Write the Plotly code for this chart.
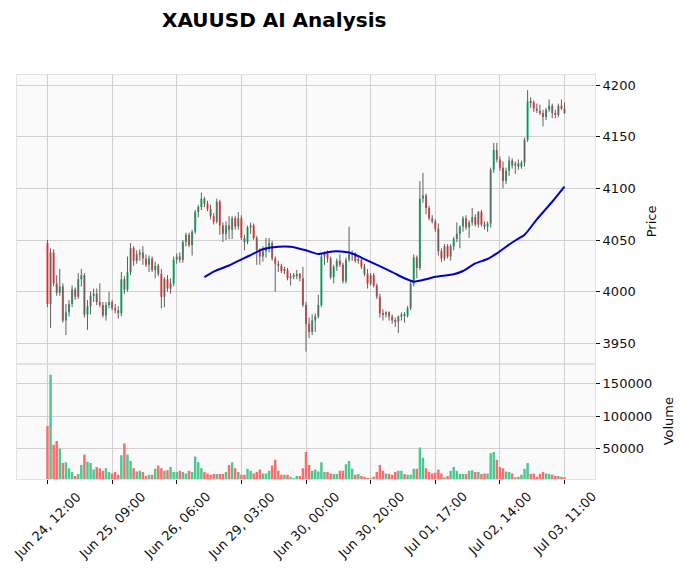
import plotly.graph_objects as go

title_text = "XAUUSD AI Analysis"
tick_pos = [0, 21, 42, 63, 84, 105, 126, 147, 168]
tick_labels = ["Jun 24, 12:00", "Jun 25, 09:00", "Jun 26, 06:00", "Jun 29, 03:00",
               "Jun 30, 00:00", "Jun 30, 20:00", "Jul 01, 17:00", "Jul 02, 14:00",
               "Jul 03, 11:00"]
price_ticks = [3950, 4000, 4050, 4100, 4150, 4200]
vol_ticks = [50000, 100000, 150000]
vol_tick_text = ["50000", "100000", "150000"]

opens = [4047, 3988, 4038, 4008, 3999, 4005, 3972, 3980, 3988, 4002,
         3995, 4012, 4016, 3978, 3986, 3996, 3998, 3990, 3987, 3977,
         3987, 3990, 3984, 3982, 3979, 4012, 4002, 4019, 4042, 4030,
         4036, 4038, 4032, 4026, 4032, 4021, 4025, 4017, 3995, 4012,
         4003, 4008, 4031, 4034, 4031, 4048, 4055, 4045, 4058, 4077,
         4082, 4090, 4085, 4080, 4073, 4068, 4087, 4064, 4056, 4064,
         4060, 4071, 4063, 4071, 4052, 4048, 4062, 4064, 4052, 4040,
         4034, 4039, 4043, 4047, 4032, 4027, 4025, 4020, 4021, 4013,
         4015, 4016, 4017, 4013, 3987, 3969, 3961, 3972, 3976, 3987,
         4034, 4037, 4032, 4014, 4024, 4030, 4026, 4010, 4031, 4036,
         4037, 4030, 4031, 4024, 4017, 4008, 4016, 4006, 3995, 3979,
         3978, 3980, 3976, 3972, 3971, 3976, 3978, 3977, 3984, 4008,
         4033, 4023, 4090, 4093, 4081, 4071, 4068, 4061, 4039, 4032,
         4044, 4034, 4044, 4051, 4056, 4063, 4071, 4062, 4067, 4072,
         4065, 4077, 4065, 4063, 4066, 4118, 4137, 4128, 4120, 4107,
         4117, 4127, 4122, 4124, 4121, 4125, 4147, 4184, 4183, 4177,
         4175, 4173, 4169, 4176, 4180, 4173, 4171, 4180, 4177]
highs = [4050, 4042, 4041, 4016, 4022, 4008, 3988, 3992, 4006, 4004,
         4018, 4022, 4018, 3992, 4000, 4003, 4003, 4008, 3990, 3990,
         4000, 3992, 3988, 3986, 4019, 4015, 4034, 4047, 4044, 4040,
         4041, 4044, 4036, 4035, 4034, 4029, 4027, 4022, 4014, 4016,
         4013, 4034, 4037, 4038, 4050, 4057, 4057, 4060, 4079, 4084,
         4096, 4092, 4088, 4084, 4076, 4090, 4089, 4067, 4068, 4073,
         4073, 4073, 4077, 4074, 4055, 4064, 4067, 4066, 4054, 4042,
         4044, 4052, 4052, 4049, 4034, 4030, 4027, 4024, 4023, 4018,
         4018, 4021, 4018, 4024, 3990, 3975, 3978, 3979, 3997, 4037,
         4039, 4040, 4034, 4026, 4032, 4036, 4028, 4033, 4063, 4040,
         4038, 4034, 4033, 4027, 4022, 4018, 4018, 4008, 3998, 3983,
         3981, 3981, 3978, 3975, 3977, 3980, 3980, 3986, 4010, 4036,
         4035, 4107, 4115, 4095, 4083, 4074, 4070, 4066, 4042, 4046,
         4046, 4046, 4053, 4067, 4064, 4073, 4074, 4069, 4081, 4075,
         4078, 4079, 4068, 4068, 4120, 4144, 4144, 4131, 4126, 4120,
         4131, 4129, 4126, 4128, 4127, 4149, 4195, 4188, 4185, 4182,
         4181, 4176, 4178, 4186, 4182, 4176, 4182, 4186, 4183]
lows = [3985, 3965, 4005, 3996, 3996, 3970, 3958, 3976, 3985, 3992,
        3993, 4005, 3975, 3963, 3978, 3990, 3987, 3985, 3975, 3972,
        3984, 3982, 3979, 3974, 3976, 3998, 4000, 4016, 4025, 4027,
        4030, 4026, 4024, 4019, 4019, 4013, 4015, 3984, 3985, 4000,
        3998, 4005, 4027, 4028, 4028, 4044, 4043, 4035, 4056, 4072,
        4079, 4082, 4078, 4070, 4065, 4066, 4055, 4048, 4050, 4051,
        4051, 4060, 4060, 4050, 4040, 4046, 4056, 4050, 4026, 4026,
        4029, 4033, 4038, 4030, 4000, 4019, 4018, 4017, 4011, 4006,
        4012, 4012, 4010, 3985, 3942, 3955, 3958, 3961, 3974, 3985,
        4026, 4028, 4012, 4008, 4020, 4024, 4008, 4008, 4029, 4030,
        4028, 4027, 4022, 4015, 4003, 4006, 4004, 3993, 3975, 3972,
        3975, 3972, 3969, 3966, 3960, 3972, 3970, 3975, 3982, 4005,
        4013, 4021, 4086, 4075, 4069, 4066, 4058, 4035, 4029, 4030,
        4032, 4030, 4040, 4048, 4042, 4058, 4060, 4052, 4064, 4063,
        4062, 4063, 4060, 4058, 4062, 4115, 4125, 4117, 4100, 4104,
        4112, 4119, 4114, 4118, 4119, 4121, 4145, 4178, 4174, 4173,
        4171, 4160, 4166, 4174, 4168, 4168, 4169, 4176, 4172]
closes = [3988, 4038, 4008, 3999, 4005, 3972, 3980, 3988, 4002, 3995,
          4012, 4016, 3978, 3986, 3996, 3998, 3990, 3987, 3977, 3987,
          3990, 3984, 3982, 3979, 4012, 4002, 4019, 4042, 4030, 4036,
          4038, 4032, 4026, 4032, 4021, 4025, 4017, 3995, 4012, 4003,
          4008, 4031, 4034, 4031, 4048, 4055, 4045, 4058, 4077, 4082,
          4090, 4085, 4080, 4073, 4068, 4087, 4064, 4056, 4064, 4060,
          4071, 4063, 4071, 4052, 4048, 4062, 4064, 4052, 4040, 4034,
          4039, 4043, 4047, 4032, 4027, 4025, 4020, 4021, 4013, 4015,
          4016, 4017, 4013, 3987, 3969, 3961, 3972, 3976, 3987, 4034,
          4037, 4032, 4014, 4024, 4030, 4026, 4010, 4031, 4036, 4037,
          4030, 4031, 4024, 4017, 4008, 4016, 4006, 3995, 3979, 3978,
          3980, 3976, 3972, 3971, 3976, 3978, 3977, 3984, 4008, 4033,
          4023, 4090, 4093, 4081, 4071, 4068, 4061, 4039, 4032, 4044,
          4034, 4044, 4051, 4056, 4063, 4071, 4062, 4067, 4072, 4065,
          4077, 4065, 4063, 4066, 4118, 4137, 4128, 4120, 4107, 4117,
          4127, 4122, 4124, 4121, 4125, 4147, 4184, 4183, 4177, 4175,
          4173, 4169, 4176, 4180, 4173, 4171, 4180, 4177, 4173]
volumes = [85000, 164000, 56000, 62000, 50000, 28000, 29000, 20000, 14000, 8000,
           11000, 25000, 41000, 30000, 28000, 18000, 22000, 20000, 16000, 20000,
           14000, 12000, 14000, 10000, 40000, 58000, 41000, 31000, 20000, 15000,
           16000, 14000, 8000, 10000, 10000, 19000, 24000, 20000, 16000, 17000,
           22000, 14000, 14000, 16000, 14000, 12000, 16000, 14000, 38000, 29000,
           20000, 14000, 12000, 10000, 11000, 11000, 11000, 11000, 14000, 25000,
           29000, 20000, 14000, 10000, 10000, 19000, 16000, 12000, 14000, 18000,
           12000, 12000, 16000, 24000, 33000, 16000, 10000, 10000, 10000, 7000,
           5000, 8000, 8000, 20000, 45000, 25000, 16000, 18000, 15000, 29000,
           14000, 14000, 12000, 11000, 11000, 16000, 16000, 26000, 31000, 19000,
           10000, 11000, 8000, 7000, 5000, 5000, 7000, 14000, 25000, 16000,
           12000, 11000, 10000, 14000, 16000, 16000, 11000, 10000, 10000, 19000,
           19000, 52000, 36000, 20000, 14000, 12000, 13000, 18000, 12000, 6000,
           8000, 16000, 22000, 16000, 11000, 11000, 11000, 16000, 17000, 14000,
           14000, 11000, 12000, 12000, 43000, 45000, 33000, 22000, 20000, 15000,
           14000, 12000, 6000, 7000, 10000, 19000, 28000, 11000, 12000, 7000,
           11000, 14000, 12000, 11000, 10000, 8000, 8000, 7000, 6000]
ma_idx = [51, 54, 59, 61, 65, 70, 75, 79, 84, 88, 92, 94, 99, 102, 106, 112,
          116, 119, 123, 126, 132, 135, 139, 143, 146, 149, 152, 155, 159, 164, 168]
ma_val = [4014, 4019.4, 4025.3, 4028.4, 4034, 4041, 4043.5, 4043.5, 4040, 4036.5,
          4038.7, 4039, 4037, 4033, 4027.4, 4019, 4013, 4009.7, 4012, 4014.5,
          4016.8, 4020, 4027.4, 4031.6, 4037, 4043.5, 4049.5, 4055, 4070, 4087, 4101.6]

UP, DOWN = "#19b76f", "#fe4444"
VUP, VDOWN = "#4dc790", "#fd6b6c"
GRID = "#d0d0d0"
FRAME = "#e2e2e2"
TXT = "#101010"
FONT = "DejaVu Sans"

n = len(closes)
xs = list(range(n))
is_up = [c >= o for o, c in zip(opens, closes)]

wick_x, wick_y = [], []
for i in xs:
    wick_x += [i, i, None]
    wick_y += [lows[i], highs[i], None]
body_base = [min(o, c) for o, c in zip(opens, closes)]
body_h = [max(abs(c - o), 0.9) for o, c in zip(opens, closes)]

fig = go.Figure()
fig.add_trace(go.Scatter(x=wick_x, y=wick_y, mode="lines", line=dict(color="#606060", width=1),
                         xaxis="x", yaxis="y", hoverinfo="skip"))
fig.add_trace(go.Bar(x=xs, y=body_h, base=body_base, width=0.65,
                     marker=dict(color=[UP if u else DOWN for u in is_up], line=dict(width=0)),
                     xaxis="x", yaxis="y"))
fig.add_trace(go.Scatter(x=ma_idx, y=ma_val, mode="lines",
                         line=dict(color="#0000cd", width=2, shape="spline", smoothing=0.6),
                         xaxis="x", yaxis="y"))
fig.add_trace(go.Bar(x=xs, y=volumes, width=0.8,
                     marker=dict(color=[VUP if u else VDOWN for u in is_up], line=dict(width=0)),
                     xaxis="x2", yaxis="y2"))

xr = [-9.9, 177.9]
common_x = dict(range=xr, tickvals=tick_pos, showgrid=True, gridcolor=GRID, gridwidth=1,
                zeroline=False, showline=True, linecolor=FRAME, mirror=True, showticklabels=False)
common_y = dict(side="right", showgrid=True, gridcolor=GRID, gridwidth=1, zeroline=False,
                ticks="outside", ticklen=4, tickcolor=TXT, showline=True, linecolor=FRAME, mirror=True,
                tickfont=dict(family=FONT, size=13, color=TXT))

annotations = []
for p, lab in zip(tick_pos, tick_labels):
    annotations.append(dict(x=p, y=-0.017, xref="x2", yref="paper", text=lab, showarrow=False,
                            textangle=-45, xanchor="center", yanchor="top",
                            font=dict(family=FONT, size=13, color=TXT)))
annotations.append(dict(x=1.097, y=0.638, xref="paper", yref="paper", text="Price", showarrow=False,
                        textangle=-90, xanchor="center", yanchor="middle",
                        font=dict(family=FONT, size=13, color=TXT)))
annotations.append(dict(x=1.1263, y=0.1427, xref="paper", yref="paper", text="Volume", showarrow=False,
                        textangle=-90, xanchor="center", yanchor="middle",
                        font=dict(family=FONT, size=13, color=TXT)))
annotations.append(dict(x=0.4446, y=1.136, xref="paper", yref="paper", text="<b>" + title_text + "</b>",
                        showarrow=False, xanchor="center", yanchor="middle",
                        font=dict(family=FONT, size=20, color="black")))

fig.update_layout(
    width=685, height=574, margin=dict(l=17, r=90, t=75, b=94.7, autoexpand=False),
    paper_bgcolor="white", plot_bgcolor="#fafafa", showlegend=False, barmode="overlay",
    xaxis=dict(domain=[0, 1], anchor="y", ticks="", **common_x),
    xaxis2=dict(domain=[0, 1], anchor="y2", matches="x", ticks="outside", ticklen=4, tickcolor=TXT,
                **common_x),
    yaxis=dict(domain=[0.2852, 1], anchor="x", range=[3930.2, 4209.7], tickvals=price_ticks, **common_y),
    yaxis2=dict(domain=[0, 0.2852], anchor="x2", range=[3400, 180800], tickvals=vol_ticks,
                ticktext=vol_tick_text, **common_y),
    annotations=annotations,
)

fig.write_html("out.html")
